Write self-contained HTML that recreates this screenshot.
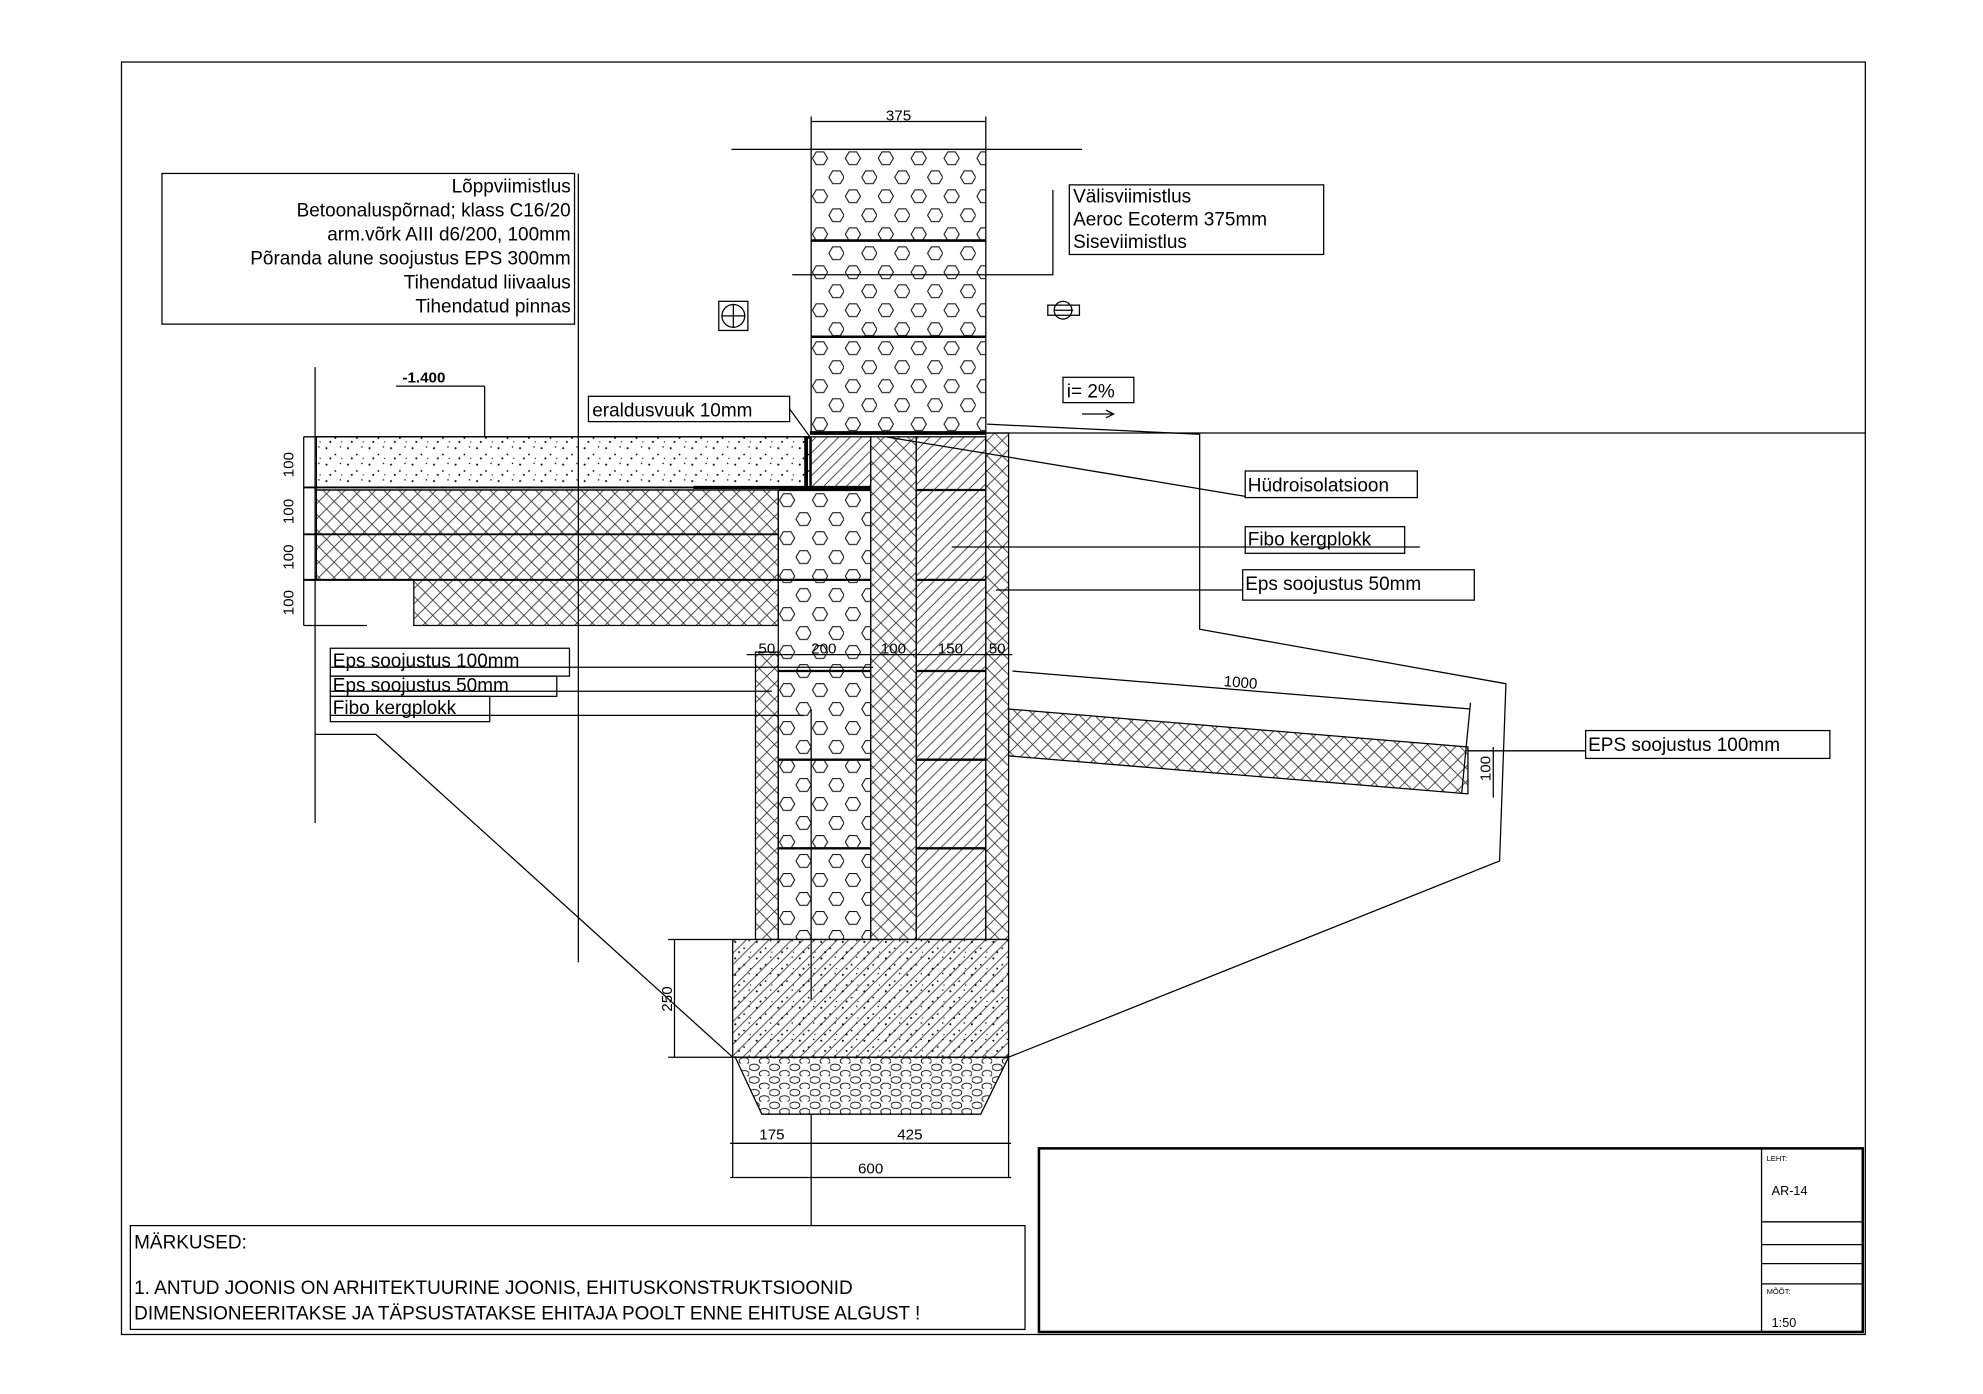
<!DOCTYPE html>
<html><head><meta charset="utf-8"><style>html,body{margin:0;padding:0;background:#fff}svg{display:block}text{font-family:"Liberation Sans",sans-serif;fill:#000}</style></head><body>
<svg width="1983" height="1394" viewBox="0 0 1567 1101" preserveAspectRatio="none" xmlns="http://www.w3.org/2000/svg">
<defs>
<pattern id="hex" width="26" height="30" patternUnits="userSpaceOnUse" x="641" y="118">
<polygon points="1,7 4,2 10,2 13,7 10,12 4,12" fill="none" stroke="#000" stroke-width="0.8"/>
<polygon points="14,22 17,17 23,17 26,22 23,27 17,27" fill="none" stroke="#000" stroke-width="0.8"/>
</pattern>
<pattern id="cross" width="12" height="12" patternUnits="userSpaceOnUse">
<path d="M0,0 L12,12 M12,0 L0,12" stroke="#333" stroke-width="0.7"/>
</pattern>
<pattern id="diag" width="9" height="9" patternUnits="userSpaceOnUse">
<path d="M0,9 L9,0 M-2,2 L2,-2 M7,11 L11,7" stroke="#333" stroke-width="0.7"/>
</pattern>
<pattern id="dots" width="17" height="13" patternUnits="userSpaceOnUse">
<circle cx="3" cy="3" r="0.8"/><circle cx="10" cy="8" r="0.7"/><circle cx="14" cy="2" r="0.6"/><circle cx="6" cy="11" r="0.8"/><circle cx="15" cy="11" r="0.5"/>
</pattern>
<pattern id="gravel" width="16" height="10" patternUnits="userSpaceOnUse">
<ellipse cx="4" cy="3" rx="4" ry="2.6" fill="none" stroke="#000" stroke-width="0.7"/><ellipse cx="12" cy="8" rx="4" ry="2.6" fill="none" stroke="#000" stroke-width="0.7"/>
</pattern>
</defs>
<g fill="none" stroke="#000" stroke-width="1">
<rect x="96" y="49" width="1378" height="1005"/>
<rect x="641" y="118" width="138" height="224" fill="url(#hex)"/>
<line x1="641" y1="190" x2="779" y2="190" stroke-width="2"/>
<line x1="641" y1="266" x2="779" y2="266" stroke-width="2"/>
<line x1="578" y1="118" x2="855" y2="118"/>
<line x1="641" y1="96" x2="779" y2="96"/><line x1="641" y1="92" x2="641" y2="118"/><line x1="779" y1="92" x2="779" y2="118"/>
<line x1="779" y1="342" x2="1474" y2="342"/>
<line x1="640" y1="342" x2="779" y2="342" stroke-width="3"/>
<rect x="250" y="345" width="390" height="42" fill="url(#dots)"/>
<rect x="250" y="387" width="365" height="35" fill="url(#cross)"/>
<rect x="250" y="422" width="365" height="36" fill="url(#cross)"/>
<rect x="327" y="458" width="288" height="36" fill="url(#cross)"/>
<line x1="240" y1="385" x2="615" y2="385" stroke-width="1.5"/>
<line x1="240" y1="422" x2="615" y2="422" stroke-width="1.5"/>
<line x1="240" y1="458" x2="615" y2="458" stroke-width="1.5"/>
<line x1="240" y1="345" x2="640" y2="345"/>
<line x1="240" y1="494" x2="290" y2="494"/>
<line x1="240" y1="345" x2="240" y2="494"/>
<line x1="249" y1="290" x2="249" y2="650"/>
<line x1="457" y1="137" x2="457" y2="760"/>
<line x1="383" y1="345" x2="383" y2="305"/><line x1="313" y1="305" x2="383" y2="305"/>
<rect x="597" y="515" width="18" height="227" fill="url(#cross)"/>
<rect x="615" y="387" width="73" height="355" fill="url(#hex)"/>
<rect x="688" y="345" width="36" height="397" fill="url(#cross)"/>
<rect x="724" y="345" width="55" height="397" fill="url(#diag)"/>
<rect x="779" y="342" width="18" height="400" fill="url(#cross)"/>
<rect x="641" y="345" width="47" height="42" fill="url(#diag)"/>
<g stroke-width="1.8">
<line x1="615" y1="458" x2="688" y2="458"/><line x1="615" y1="530" x2="688" y2="530"/><line x1="615" y1="600" x2="688" y2="600"/><line x1="615" y1="670" x2="688" y2="670"/>
<line x1="724" y1="387" x2="779" y2="387"/><line x1="724" y1="458" x2="779" y2="458"/><line x1="724" y1="530" x2="779" y2="530"/><line x1="724" y1="600" x2="779" y2="600"/><line x1="724" y1="670" x2="779" y2="670"/>
<line x1="615" y1="387" x2="688" y2="387"/>
</g>
<line x1="637" y1="345" x2="637" y2="387" stroke-width="3"/>
<line x1="548" y1="385" x2="688" y2="385" stroke-width="2.5"/>
<line x1="590" y1="517" x2="800" y2="517"/>
<line x1="641" y1="560" x2="641" y2="790"/>
<rect x="579" y="742" width="218" height="93" fill="url(#diag)"/>
<rect x="579" y="742" width="218" height="93" fill="url(#dots)" stroke="none"/>
<polygon points="581,835 797,835 775,880 602,880" fill="url(#gravel)"/>
<line x1="579" y1="835" x2="579" y2="930"/><line x1="797" y1="835" x2="797" y2="930"/>
<line x1="641" y1="880" x2="641" y2="968"/>
<line x1="577" y1="903" x2="799" y2="903"/><line x1="577" y1="930" x2="799" y2="930"/>
<line x1="533" y1="742" x2="533" y2="835"/><line x1="528" y1="742" x2="579" y2="742"/><line x1="528" y1="835" x2="579" y2="835"/>
<polygon points="797,560 1160,590 1160,627 797,597" fill="url(#cross)"/>
<line x1="800" y1="530" x2="1162" y2="560"/><line x1="1162" y1="555" x2="1155" y2="627"/>
<line x1="1180" y1="590" x2="1180" y2="630"/>
<polyline points="780,335 948,343 948,497 1190,540 1185,680 797,835"/>
<polyline points="249,580 297,580 579,835"/>
<rect x="128" y="137" width="326" height="119"/>
<rect x="845" y="146" width="201" height="55"/>
<polyline points="832,150 832,217 626,217"/>
<rect x="568" y="238" width="23" height="23"/><circle cx="579.5" cy="249.5" r="9"/><line x1="570" y1="249.5" x2="589" y2="249.5"/><line x1="579.5" y1="240" x2="579.5" y2="259"/>
<circle cx="840" cy="245" r="7"/><rect x="828" y="241" width="25" height="8"/><line x1="833" y1="245" x2="848" y2="245"/>
<rect x="840" y="298" width="56" height="20"/>
<line x1="855" y1="327" x2="880" y2="327"/><polyline points="874,324 880,327 874,330"/>
<rect x="465" y="313" width="159" height="20"/><line x1="624" y1="323" x2="640" y2="345"/>
<rect x="984" y="372" width="136" height="21"/><line x1="700" y1="345" x2="984" y2="392"/>
<rect x="984" y="416" width="126" height="21"/><line x1="752" y1="432" x2="1122" y2="432"/>
<rect x="982" y="450" width="183" height="24"/><line x1="787" y1="466" x2="982" y2="466"/>
<rect x="1253" y="577" width="193" height="22"/><line x1="1160" y1="593" x2="1253" y2="593"/>
<rect x="261" y="512" width="189" height="22"/><line x1="261" y1="527" x2="690" y2="527"/>
<rect x="261" y="534" width="179" height="16"/><line x1="261" y1="546" x2="610" y2="546"/>
<rect x="261" y="550" width="126" height="20"/><line x1="261" y1="565" x2="635" y2="565"/>
<rect x="103" y="968" width="707" height="82"/>
<rect x="821" y="907" width="651" height="145" stroke-width="2"/>
<line x1="1392" y1="907" x2="1392" y2="1052"/>
<line x1="1392" y1="965" x2="1472" y2="965"/><line x1="1392" y1="983" x2="1472" y2="983"/><line x1="1392" y1="998" x2="1472" y2="998"/><line x1="1392" y1="1014" x2="1472" y2="1014"/>
</g>
<g font-size="15">
<text x="451" y="152" text-anchor="end">Lõppviimistlus</text>
<text x="451" y="171" text-anchor="end">Betoonaluspõrnad; klass C16/20</text>
<text x="451" y="190" text-anchor="end">arm.võrk AIII d6/200, 100mm</text>
<text x="451" y="209" text-anchor="end">Põranda alune soojustus EPS 300mm</text>
<text x="451" y="228" text-anchor="end">Tihendatud liivaalus</text>
<text x="451" y="247" text-anchor="end">Tihendatud pinnas</text>
<text x="848" y="160">Välisviimistlus</text>
<text x="848" y="178">Aeroc Ecoterm 375mm</text>
<text x="848" y="196">Siseviimistlus</text>
<text x="843" y="314">i= 2%</text>
<text x="468" y="329">eraldusvuuk 10mm</text>
<text x="986" y="388">Hüdroisolatsioon</text>
<text x="986" y="431">Fibo kergplokk</text>
<text x="984" y="466">Eps soojustus 50mm</text>
<text x="1255" y="593">EPS soojustus 100mm</text>
<text x="263" y="527">Eps soojustus 100mm</text>
<text x="263" y="546">Eps soojustus 50mm</text>
<text x="263" y="564">Fibo kergplokk</text>
<text x="106" y="986">MÄRKUSED:</text>
<text x="106" y="1022">1. ANTUD JOONIS ON ARHITEKTUURINE JOONIS, EHITUSKONSTRUKTSIOONID</text>
<text x="106" y="1042">DIMENSIONEERITAKSE JA TÄPSUSTATAKSE EHITAJA POOLT ENNE EHITUSE ALGUST !</text>
</g>
<g font-size="12">
<text x="710" y="95" text-anchor="middle">375</text>
<text x="335" y="302" text-anchor="middle" font-weight="bold">-1.400</text>
<text x="606" y="516" text-anchor="middle">50</text>
<text x="651" y="516" text-anchor="middle">200</text>
<text x="706" y="516" text-anchor="middle">100</text>
<text x="751" y="516" text-anchor="middle">150</text>
<text x="788" y="516" text-anchor="middle">50</text>
<text x="980" y="543" text-anchor="middle" transform="rotate(4.7 980 543)">1000</text>
<text x="610" y="900" text-anchor="middle">175</text>
<text x="719" y="900" text-anchor="middle">425</text>
<text x="688" y="927" text-anchor="middle">600</text>
<text transform="translate(531,789) rotate(-90)" text-anchor="middle">250</text>
<text transform="translate(1178,607) rotate(-90)" text-anchor="middle">100</text>
<text transform="translate(232,367) rotate(-90)" text-anchor="middle">100</text>
<text transform="translate(232,404) rotate(-90)" text-anchor="middle">100</text>
<text transform="translate(232,440) rotate(-90)" text-anchor="middle">100</text>
<text transform="translate(232,476) rotate(-90)" text-anchor="middle">100</text>
<text x="1400" y="944" font-size="10">AR-14</text>
<text x="1400" y="1048" font-size="10">1:50</text>
<text x="1396" y="917" font-size="6">LEHT:</text>
<text x="1396" y="1022" font-size="6">MÕÕT:</text>
</g>
</svg>
</body></html>
